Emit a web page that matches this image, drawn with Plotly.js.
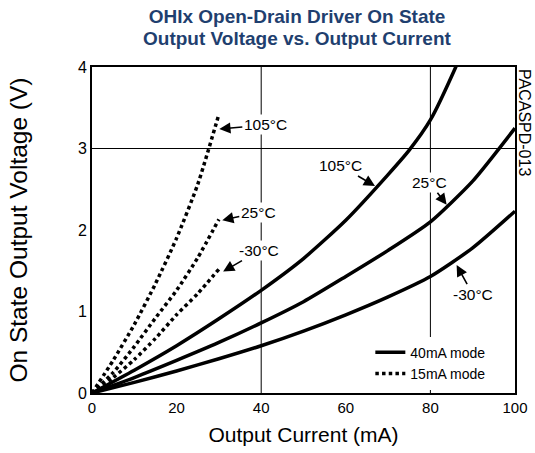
<!DOCTYPE html>
<html>
<head>
<meta charset="utf-8">
<script src="https://cdn.plot.ly/plotly-3.0.1.min.js"></script>
<style>html,body{margin:0;padding:0;background:#fff}#chart{width:535px;height:453px}</style>
</head>
<body>
<div id="chart"></div>
<script>
// Output current (mA) and on-state output voltage (V)
const current40 = [0, 10, 20, 30, 40, 50, 60, 70, 75, 80, 86, 90];
const volt40_105 = [0, 0.28, 0.58, 0.91, 1.26, 1.65, 2.12, 2.68, 2.98, 3.35, 4.0, 4.5];

const current40b = [0, 10, 20, 30, 40, 50, 60, 70, 80, 90, 100];
const volt40_25 = [0, 0.19, 0.40, 0.62, 0.86, 1.12, 1.43, 1.75, 2.10, 2.60, 3.25];
const volt40_m30 = [0, 0.13, 0.27, 0.42, 0.58, 0.76, 0.96, 1.18, 1.43, 1.78, 2.23];

const current15 = [0, 5, 10, 15, 20, 25, 30];
const volt15_105 = [0, 0.40, 0.84, 1.34, 1.90, 2.56, 3.42];
const volt15_25 = [0, 0.25, 0.57, 0.92, 1.26, 1.66, 2.13];
const volt15_m30 = [0, 0.19, 0.41, 0.67, 0.96, 1.22, 1.52];

const xTicks = [0, 20, 40, 60, 80, 100];
const yTicks = [0, 1, 2, 3, 4];
const modeNames = ['40mA mode', '15mA mode'];
const tempLabels = ['105°C', '25°C', '-30°C'];
const titleLines = ['OHIx Open-Drain Driver On State', 'Output Voltage vs. Output Current'];

const FONT = 'Liberation Sans, Arial, sans-serif';
const TITLE_COLOR = '#1f3f6f';
const solid = {color: '#000', width: 3.5, shape: 'spline', smoothing: 0.6};
const dotted = {color: '#000', width: 3.5, dash: '3.5px,3.2px', shape: 'spline', smoothing: 0.6};

const traces = [
  {x: current40, y: volt40_105, mode: 'lines', line: solid, name: modeNames[0], showlegend: true},
  {x: current40b, y: volt40_25, mode: 'lines', line: solid, showlegend: false},
  {x: current40b, y: volt40_m30, mode: 'lines', line: solid, showlegend: false},
  {x: current15, y: volt15_105, mode: 'lines', line: dotted, name: modeNames[1], showlegend: true},
  {x: current15, y: volt15_25, mode: 'lines', line: dotted, showlegend: false},
  {x: current15, y: volt15_m30, mode: 'lines', line: dotted, showlegend: false}
];

function lbl(text, x, y, ax, ay) {
  return {text: text, x: x, y: y, xref: 'x', yref: 'y', ax: ax, ay: ay,
    showarrow: true, arrowhead: 2, arrowsize: 1.4, arrowwidth: 1.6, arrowcolor: '#000',
    bgcolor: '#fff', font: {family: FONT, size: 15.5, color: '#000'}};
}

const annotations = [
  lbl(tempLabels[0], 30.1, 3.24, 46, -4),
  lbl(tempLabels[1], 30.8, 2.12, 36, -8),
  lbl(tempLabels[2], 31.0, 1.49, 36, -21),
  lbl(tempLabels[0], 66.9, 2.54, -34, -20),
  lbl(tempLabels[1], 83.85, 2.31, -17, -22),
  lbl(tempLabels[2], 86.2, 1.57, 16, 29),
  {text: 'PACASPD-013', xref: 'paper', yref: 'paper', x: 1, y: 1, xanchor: 'left', yanchor: 'top',
   xshift: -1, showarrow: false, textangle: 90, font: {family: FONT, size: 16, color: '#000'}},
  {text: '<b>' + titleLines[1] + '</b>', xref: 'paper', yref: 'paper', x: (297 - 92) / 423, y: (393 - 38) / 326,
   xanchor: 'center', yanchor: 'middle', showarrow: false, font: {family: FONT, size: 19, color: TITLE_COLOR}}
];

const gridColor = '#000';
const shapes = [
  {type: 'line', xref: 'x', yref: 'paper', x0: 40, x1: 40, y0: 0, y1: 1, line: {color: gridColor, width: 1}, layer: 'below'},
  {type: 'line', xref: 'x', yref: 'paper', x0: 80, x1: 80, y0: 0, y1: 1, line: {color: gridColor, width: 1}, layer: 'below'},
  {type: 'line', xref: 'paper', yref: 'y', x0: 0, x1: 1, y0: 3, y1: 3, line: {color: gridColor, width: 1}, layer: 'below'}
];

const layout = {
  width: 535, height: 453,
  margin: {l: 92, r: 20, t: 67, b: 60, pad: 0},
  paper_bgcolor: '#fff', plot_bgcolor: '#fff',
  font: {family: FONT, color: '#000'},
  title: {text: '<b>' + titleLines[0] + '</b>',
    font: {family: FONT, size: 19, color: TITLE_COLOR},
    x: 297 / 535, xanchor: 'center', xref: 'container', y: 1 - 16 / 453, yanchor: 'middle', yref: 'container'},
  xaxis: {range: [0, 100], tickvals: xTicks, ticktext: xTicks.map(String), showgrid: false, zeroline: false,
    showline: true, linecolor: '#000', linewidth: 2, mirror: true, ticks: '',
    tickfont: {family: FONT, size: 15, color: '#000'},
    title: {text: 'Output Current (mA)', font: {family: FONT, size: 21, color: '#000'}, standoff: 12}},
  yaxis: {range: [0, 4], tickvals: yTicks, ticktext: yTicks.map(String), showgrid: false, zeroline: false,
    showline: true, linecolor: '#000', linewidth: 2, mirror: true, ticks: '',
    tickfont: {family: FONT, size: 16, color: '#000'},
    title: {text: 'On State Output Voltage (V)', font: {family: FONT, size: 24.5, color: '#000'}, standoff: 43}},
  legend: {x: 0.658, xanchor: 'left', y: 0.01, yanchor: 'bottom', bgcolor: '#fff',
    font: {family: FONT, size: 14, color: '#000'}, tracegroupgap: 0},
  annotations: annotations,
  shapes: shapes,
  showlegend: true
};

Plotly.newPlot('chart', traces, layout, {staticPlot: true, displayModeBar: false});
</script>
</body>
</html>
